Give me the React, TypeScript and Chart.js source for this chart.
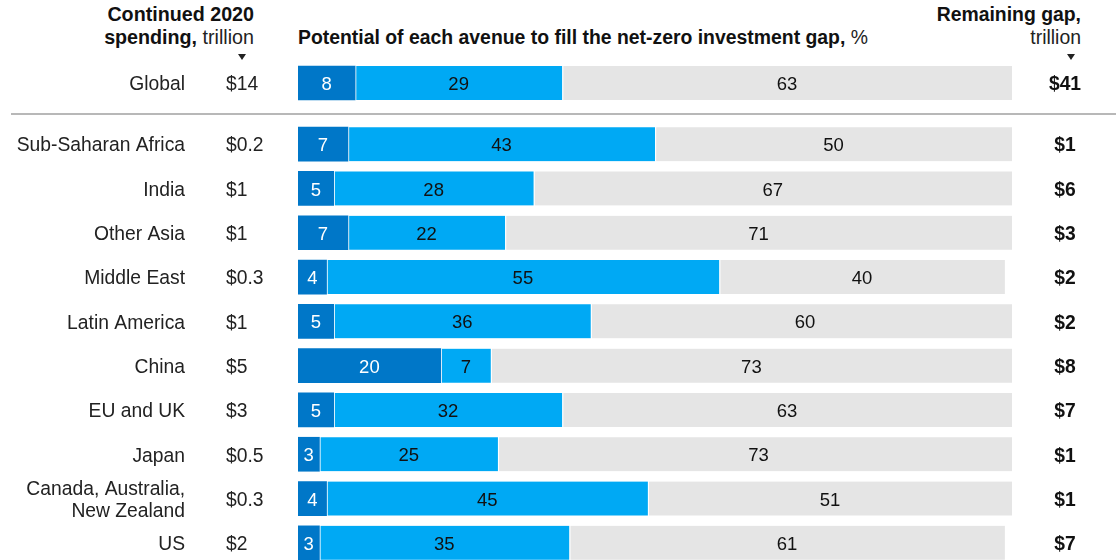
import React, { useEffect, useRef } from "react";
import { Chart, registerables } from "chart.js";

Chart.register(...registerables);

// ---- Data ----
const globalLabel = ["Global"];
const globalAvenue1 = [8];
const globalAvenue2 = [29];
const globalRemaining = [63];
const globalSpending = ["$14"];
const globalGap = ["$41"];

const regions: (string | string[])[] = [
  "Sub-Saharan Africa",
  "India",
  "Other Asia",
  "Middle East",
  "Latin America",
  "China",
  "EU and UK",
  "Japan",
  ["Canada, Australia,", "New Zealand"],
  "US",
];
const avenue1 = [7, 5, 7, 4, 5, 20, 5, 3, 4, 3];
const avenue2 = [43, 28, 22, 55, 36, 7, 32, 25, 45, 35];
const remaining = [50, 67, 71, 40, 60, 73, 63, 73, 51, 61];
const spending = ["$0.2", "$1", "$1", "$0.3", "$1", "$5", "$3", "$0.5", "$0.3", "$2"];
const gap = ["$1", "$6", "$3", "$2", "$2", "$8", "$7", "$1", "$1", "$7"];

const DARK = "#0077C8";
const LIGHT = "#00A9F4";
const GREY = "#E5E5E5";
const FONT = '"Liberation Sans", Arial, sans-serif';

function makeConfig(
  labels: (string | string[])[],
  a1: number[],
  a2: number[],
  rem: number[],
  spend: string[],
  gp: string[]
): any {
  const textPlugin = {
    id: "rowText",
    afterDatasetsDraw(chart: any) {
      const ctx = chart.ctx;
      const y = chart.scales.y;
      ctx.save();
      ctx.textBaseline = "middle";
      labels.forEach((lab, i) => {
        const cy = y.getPixelForValue(i) + 2;
        const lines = Array.isArray(lab) ? lab : [lab];
        ctx.font = `19.3px ${FONT}`;
        ctx.fillStyle = "#222";
        ctx.textAlign = "right";
        lines.forEach((ln, k) => {
          ctx.fillText(ln, 185, cy + (k - (lines.length - 1) / 2) * 22);
        });
        ctx.textAlign = "left";
        ctx.fillText(spend[i], 226, cy);
        ctx.font = `bold 19.3px ${FONT}`;
        ctx.fillStyle = "#111";
        ctx.textAlign = "center";
        ctx.fillText(gp[i], 1065, cy);
        // segment values
        ctx.font = `18.5px ${FONT}`;
        chart.data.datasets.forEach((ds: any, d: number) => {
          const el = chart.getDatasetMeta(d).data[i];
          const cx = (el.x + el.base) / 2;
          ctx.fillStyle = d === 0 ? "#ffffff" : "#111";
          ctx.fillText(String(ds.data[i]), cx, cy);
        });
      });
      ctx.restore();
    },
  };
  return {
    type: "bar",
    data: {
      labels,
      datasets: [
        {
          label: "Avenue 1",
          data: a1,
          backgroundColor: DARK,
          borderWidth: 0,
          barThickness: 34,
        },
        {
          label: "Avenue 2",
          data: a2,
          backgroundColor: LIGHT,
          borderColor: "#ffffff",
          borderSkipped: false,
          borderWidth: { left: 1.5, right: 0, top: 0, bottom: 0 },
          barThickness: 34,
        },
        {
          label: "Remaining gap",
          data: rem,
          backgroundColor: GREY,
          borderColor: "#ffffff",
          borderSkipped: false,
          borderWidth: { left: 1.5, right: 0, top: 0, bottom: 0 },
          barThickness: 34,
        },
      ],
    },
    options: {
      indexAxis: "y",
      responsive: false,
      animation: false,
      layout: { padding: { left: 298, right: 104, top: 0, bottom: 0 } },
      plugins: { legend: { display: false }, tooltip: { enabled: false } },
      scales: {
        x: { stacked: true, min: 0, max: 100, display: false },
        y: { stacked: true, display: false },
      },
    },
    plugins: [textPlugin],
  };
}

function BarChart(props: { config: any; width: number; height: number; top: number }) {
  const ref = useRef<HTMLCanvasElement>(null);
  useEffect(() => {
    if (!ref.current) return;
    const chart = new Chart(ref.current, props.config);
    return () => chart.destroy();
  }, []);
  return (
    <canvas
      ref={ref}
      width={props.width}
      height={props.height}
      style={{ position: "absolute", left: 0, top: props.top, width: props.width, height: props.height }}
    />
  );
}

const Arrow = ({ x }: { x: number }) => (
  <div
    style={{
      position: "absolute",
      left: x - 4,
      top: 54,
      width: 0,
      height: 0,
      borderLeft: "4px solid transparent",
      borderRight: "4px solid transparent",
      borderTop: "6px solid #222",
    }}
  />
);

export default function App() {
  const globalCfg = makeConfig(globalLabel, globalAvenue1, globalAvenue2, globalRemaining, globalSpending, globalGap);
  const regionCfg = makeConfig(regions, avenue1, avenue2, remaining, spending, gap);
  const head: React.CSSProperties = {
    position: "absolute",
    fontFamily: FONT,
    fontSize: 19.7,
    lineHeight: "23px",
    color: "#111",
    whiteSpace: "nowrap",
  };
  return (
    <div
      style={{
        position: "absolute",
        left: 0,
        top: 0,
        width: 1116,
        height: 560,
        overflow: "hidden",
        background: "#fff",
      }}
    >
      <div style={{ ...head, right: 1116 - 254, top: 3, textAlign: "right" }}>
        <b>Continued 2020</b>
        <br />
        <b>spending,</b> <span style={{ color: "#222" }}>trillion</span>
      </div>
      <Arrow x={242} />
      <div style={{ ...head, fontSize: 19.4, left: 298, top: 26 }}>
        <b>Potential of each avenue to fill the net-zero investment gap,</b>{" "}
        <span style={{ color: "#222" }}>%</span>
      </div>
      <div style={{ ...head, fontSize: 19.4, right: 1116 - 1081, top: 3, textAlign: "right" }}>
        <b>Remaining gap,</b>
        <br />
        <span style={{ color: "#222" }}>trillion</span>
      </div>
      <Arrow x={1071} />
      <BarChart config={globalCfg} width={1116} height={44} top={61} />
      <div
        style={{
          position: "absolute",
          left: 11,
          top: 113,
          width: 1105,
          height: 2,
          background: "#b8b8b8",
        }}
      />
      <BarChart config={regionCfg} width={1116} height={443} top={122} />
    </div>
  );
}
